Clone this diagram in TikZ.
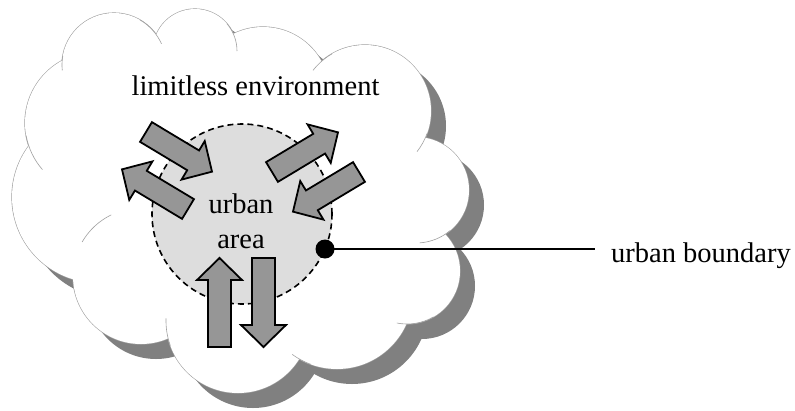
\documentclass[tikz,border=0pt]{standalone}
\usepackage{fontspec}
\setmainfont{Liberation Serif}
\definecolor{shadowgray}{HTML}{808080}
\definecolor{cloudline}{HTML}{A0A0A0}
\definecolor{areagray}{HTML}{DDDDDD}
\definecolor{arrowgray}{HTML}{969696}

% the lobes of the cloud, and a polygon through their centres that fills the middle
\newcommand\cloudlobes[1]{%
  \path[#1] (114,65) circle[radius=52] (195,51) circle[radius=42]
    (263,94) circle[radius=67] (365,111) circle[radius=66]
    (416,190) circle[radius=53] (407,271) circle[radius=53]
    (337,293) circle[radius=76] (238,321) circle[radius=72]
    (141,276) circle[radius=68] (98,197) circle[radius=86]
    (96,123) circle[radius=71];}
\newcommand\cloudcore[1]{%
  \path[#1] (114,65) -- (195,51) -- (263,94) -- (365,111) -- (416,190)
    -- (407,271) -- (337,293) -- (238,321) -- (141,276) -- (98,197)
    -- (96,123) -- cycle;}

\tikzset{
  pics/blockarrow/.style={code={
    \path[pic actions] (0,-11.5) -- (#1-22,-11.5) -- (#1-22,-22.5) -- (#1,0)
      -- (#1-22,22.5) -- (#1-22,11.5) -- (0,11.5) -- cycle;
  }},
  flow/.style={draw=black, fill=arrowgray, line width=1.8pt, line join=miter},
  innerarc/.style={draw=cloudline, line width=0.6pt},
  label/.style={font=\fontsize{28.5}{34}\selectfont, inner sep=0pt, anchor=base},
}

\begin{document}
\begin{tikzpicture}[x=1pt, y=-1pt]
\useasboundingbox (0,0) rectangle (795,410);

% drop shadow of the cloud
\begin{scope}[shift={(15,15)}]
  \cloudlobes{fill=shadowgray}
  \cloudcore{fill=shadowgray}
\end{scope}

% cloud: outline strokes, then white body covering their inner halves
\cloudlobes{draw=cloudline, line width=1.2pt}
\cloudlobes{fill=white}
\cloudcore{fill=white}

% short lobe arcs that run on inside the cloud
\path[innerarc] (114,65) ++(-60:52) arc[start angle=-60, end angle=-24, radius=52];
\path[innerarc] (114,65) ++(-170:52) arc[start angle=-170, end angle=-186, radius=52];
\path[innerarc] (195,51) ++(-40:42) arc[start angle=-40, end angle=0, radius=42];
\path[innerarc] (365,111) ++(-142:66) arc[start angle=-142, end angle=-120, radius=66];
\path[innerarc] (365,111) ++(20:66) arc[start angle=20, end angle=38, radius=66];
\path[innerarc] (416,190) ++(50:53) arc[start angle=50, end angle=86, radius=53];
\path[innerarc] (407,271) ++(60:53) arc[start angle=60, end angle=101, radius=53];
\path[innerarc] (337,293) ++(-234:76) arc[start angle=-234, end angle=-250, radius=76];
\path[innerarc] (238,321) ++(-178:72) arc[start angle=-178, end angle=-200, radius=72];
\path[innerarc] (141,276) ++(-116:68) arc[start angle=-116, end angle=-150, radius=68];
\path[innerarc] (96,123) ++(-190:71) arc[start angle=-190, end angle=-221, radius=71];

% urban area
\node[circle, minimum size=180, inner sep=0pt, draw=black, fill=areagray,
      line width=1.6pt, dash pattern=on 6pt off 4pt] (area) at (242,214) {};

% flows between the urban area and its environment
\pic[flow, rotate=-31]  at (146,132) {blockarrow=77};
\pic[flow, rotate=149]  at (188,209) {blockarrow=77};
\pic[flow, rotate=31]   at (272,172) {blockarrow=77};
\pic[flow, rotate=-149] at (359,172) {blockarrow=77};
\pic[flow, rotate=90]   at (219.5,347) {blockarrow=89};
\pic[flow, rotate=-90]  at (263.5,258) {blockarrow=89};

% texts
\node[label] (env) at (255.5,95) {limitless environment};
\node[label] (urb) at (241,213) {urban};
\node[label] (are) at (241,248) {area};
\node[label, anchor=base west] (bnd) at (611,262) {urban boundary};

% boundary marker
\node[circle, fill=black, minimum size=19, inner sep=0pt] (dot) at (325,249) {};
\coordinate (lineend) at (595,249);
\draw[line width=1.6pt] (dot.center) -- (lineend);
\end{tikzpicture}
\end{document}
